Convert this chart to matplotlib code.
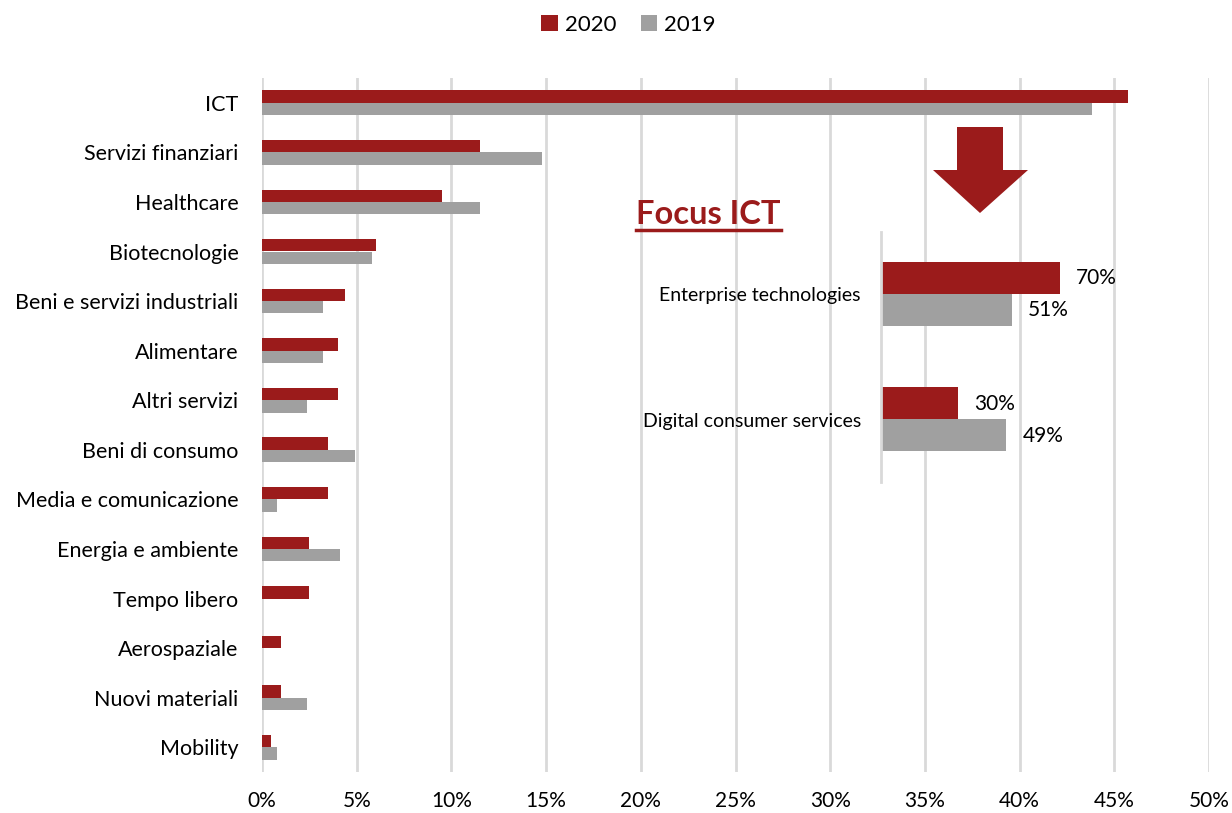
import numpy as np
import matplotlib.pyplot as plt
from matplotlib.patches import Polygon
from matplotlib.ticker import PercentFormatter

plt.rcParams['font.family'] = ['Lato', 'DejaVu Sans']

# main chart data (share of deals, %)
sectors = ["ICT", "Servizi finanziari", "Healthcare", "Biotecnologie",
           "Beni e servizi industriali", "Alimentare", "Altri servizi",
           "Beni di consumo", "Media e comunicazione", "Energia e ambiente",
           "Tempo libero", "Aerospaziale", "Nuovi materiali", "Mobility"]
vals_2020 = [45.7, 11.5, 9.5, 6.0, 4.4, 4.0, 4.0, 3.5, 3.5, 2.5, 2.5, 1.0, 1.0, 0.5]
vals_2019 = [43.8, 14.8, 11.5, 5.8, 3.2, 3.2, 2.4, 4.9, 0.8, 4.1, 0.0, 0.0, 2.4, 0.8]

# focus ICT inset
focus_cats = ["Enterprise technologies", "Digital consumer services"]
focus_2020 = [70, 30]
focus_2019 = [51, 49]

RED = "#9B1B1B"
GREY = "#A0A0A0"
GRID = "#D9D9D9"

fig = plt.figure(figsize=(12.32, 8.13), dpi=100)
W, H = 1232, 813


def fx(px):
    return px / W


def fy(py):
    return 1 - py / H


ax = fig.add_axes([fx(262), fy(772), fx(1209) - fx(262), fy(78) - fy(772)])
y = np.arange(len(sectors))
h = 0.25
ax.barh(y - h / 2, vals_2020, height=h, color=RED, label="2020", zorder=3)
ax.barh(y + h / 2, vals_2019, height=h, color=GREY, label="2019", zorder=3)
ax.set_ylim(len(sectors) - 0.5, -0.5)
ax.set_xlim(0, 50)
ax.set_xticks(np.arange(0, 51, 5))
ax.xaxis.set_major_formatter(PercentFormatter(decimals=0))
ax.set_yticks(y)
ax.set_yticklabels(sectors)
ax.tick_params(axis="x", length=0, labelsize=15, colors="black", pad=14)
ax.tick_params(axis="y", length=0, labelsize=15.5, colors="black", pad=17)
ax.grid(axis="x", color=GRID, linewidth=2, zorder=0)
for s in ax.spines.values():
    s.set_visible(False)

fig.legend(*ax.get_legend_handles_labels(), loc="center", bbox_to_anchor=(0.51, fy(25)),
           ncol=2, frameon=False, fontsize=16, handlelength=0.75, handleheight=0.75,
           handletextpad=0.3, columnspacing=1.1)

# inset: focus on ICT
ins = fig.add_axes([fx(881), fy(482), fx(256), fy(232) - fy(482)])
ins.patch.set_alpha(0)
yi = np.arange(len(focus_cats))
hi = 0.256
b20 = ins.barh(yi - hi / 2, focus_2020, height=hi, color=RED)
b19 = ins.barh(yi + hi / 2, focus_2019, height=hi, color=GREY)
ins.set_xlim(0, 100)
ins.set_ylim(len(focus_cats) - 0.5, -0.5)
ins.set_xticks([])
ins.set_yticks(yi)
ins.set_yticklabels(focus_cats)
ins.tick_params(axis="y", length=0, labelsize=14, pad=14.5)
for k, s in ins.spines.items():
    s.set_visible(k == "left")
ins.spines["left"].set_color(GRID)
ins.spines["left"].set_linewidth(2)
for bars in (b20, b19):
    ins.bar_label(bars, labels=[f"{v}%" for v in bars.datavalues], padding=11.5, fontsize=15)

# title with underline
title = fig.text(fx(636), fy(214), "Focus ICT", color=RED, fontsize=23.5, fontweight="bold",
                 ha="left", va="center")
fig.canvas.draw()
bb = title.get_window_extent(fig.canvas.get_renderer()).transformed(fig.transFigure.inverted())
fig.add_artist(plt.Line2D([bb.x0, bb.x1], [bb.y0 - 0.002, bb.y0 - 0.002],
                          color=RED, linewidth=2.5, transform=fig.transFigure))

# big down arrow
arrow_px = [(957, 127), (1003, 127), (1003, 170), (1028, 170), (980, 213),
            (933, 170), (957, 170)]
fig.add_artist(Polygon([(fx(a), fy(b)) for a, b in arrow_px], closed=True,
                       facecolor=RED, edgecolor="none", transform=fig.transFigure))

fig.savefig("out.png", dpi=100)
